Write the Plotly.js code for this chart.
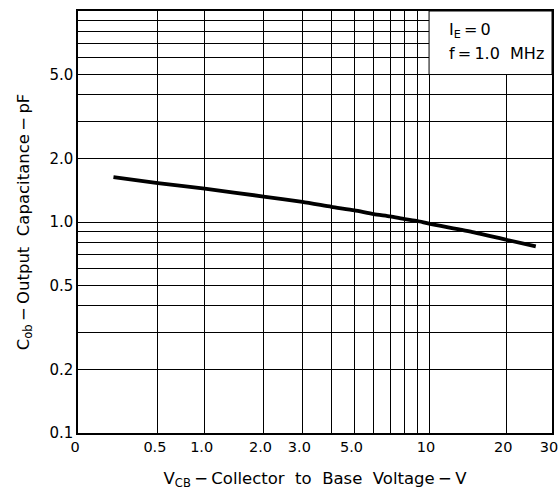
<!DOCTYPE html>
<html>
<head>
<meta charset="utf-8">
<script src="https://cdn.plot.ly/plotly-3.0.1.min.js"></script>
<style>html,body{margin:0;padding:0;background:#fff;}#chart{width:560px;height:495px;}</style>
</head>
<body>
<div id="chart"></div>
<script>
// Collector-base voltage (V) and output capacitance (pF)
const vcb = [0.18, 0.5, 1.0, 2.0, 3.0, 4.0, 5.0, 6.0, 7.0, 8.0, 9.0, 10, 15, 20, 26];
const cob = [1.63, 1.53, 1.44, 1.32, 1.245, 1.18, 1.135, 1.09, 1.063, 1.033, 1.011, 0.982, 0.894, 0.824, 0.766];

// Axis scale: log(V + 0.5) as on the original chart paper
const vOffset = 0.5;
const xGridV = [0, 0.5, 1, 2, 3, 4, 5, 6, 7, 8, 9, 10, 20, 30];
const xGridLabels = ["0", "0.5", "1.0", "2.0", "3.0", "", "5.0", "", "", "", "", "10", "20", "30"];
const yGrid = [0.1, 0.2, 0.3, 0.4, 0.5, 0.6, 0.7, 0.8, 0.9, 1, 2, 3, 4, 5, 6, 7, 8, 9, 10];
const yGridLabels = ["0.1", "0.2", "", "", "0.5", "", "", "", "", "1.0", "2.0", "", "", "5.0", "", "", "", "", ""];

const xs = vcb.map(v => v + vOffset);
const xTickVals = xGridV.map(v => v + vOffset);

const fam = "DejaVu Sans, Liberation Sans, Arial, sans-serif";
const f = (size) => ({family: fam, size: size, color: "#000"});
const NB = "\u00a0", TH = "\u2009";

const trace = {
  x: xs, y: cob, type: "scatter", mode: "lines",
  line: {color: "#000", width: 3.8, shape: "spline", smoothing: 0.6},
  hoverinfo: "skip"
};

const layout = {
  width: 560, height: 495,
  margin: {l: 78, r: 8, t: 11, b: 62},
  paper_bgcolor: "#fff", plot_bgcolor: "#fff",
  showlegend: false,
  font: f(15),
  xaxis: {
    type: "log",
    range: [Math.log10(0 + vOffset), Math.log10(30 + vOffset)],
    tickmode: "array", tickvals: xTickVals, ticktext: xGridLabels,
    showgrid: true, gridcolor: "#000", gridwidth: 1,
    showline: true, linecolor: "#000", linewidth: 1.6, mirror: true,
    ticks: "", ticklen: 0, zeroline: false,
    ticklabeloverflow: "allow", ticklabelshift: -3,
    tickfont: f(14.5),
    title: {text: "V<sub>CB</sub>" + TH + "−" + TH + "Collector" + NB + NB + "to" + NB + NB + "Base" + NB + NB + "Voltage" + TH + "−" + TH + "V", font: f(16.5), standoff: 18},
    fixedrange: true
  },
  yaxis: {
    type: "log",
    range: [-1, 1],
    tickmode: "array", tickvals: yGrid, ticktext: yGridLabels,
    showgrid: true, gridcolor: "#000", gridwidth: 1,
    showline: true, linecolor: "#000", linewidth: 1.6, mirror: true,
    ticks: "", ticklen: 0, zeroline: false,
    tickfont: f(15),
    title: {text: "C<sub>ob</sub>" + TH + "−" + TH + "Output" + NB + NB + "Capacitance" + TH + "−" + TH + "pF", font: f(16.5), standoff: 16},
    fixedrange: true
  },
  shapes: [{
    type: "rect", xref: "x", yref: "y", layer: "between",
    x0: 10 + vOffset, x1: 30 + vOffset, y0: 5, y1: 10,
    fillcolor: "#fff", line: {color: "#000", width: 1}
  }],
  annotations: [
    {xref: "paper", yref: "paper", x: 0.778, y: 0.953, xanchor: "left", yanchor: "middle",
     text: "I<sub>E</sub>" + TH + "=" + TH + "0", showarrow: false, font: f(16)},
    {xref: "paper", yref: "paper", x: 0.778, y: 0.9, xanchor: "left", yanchor: "middle",
     text: "f" + TH + "=" + TH + "1.0" + NB + NB + "MHz", showarrow: false, font: f(16)}
  ]
};

Plotly.newPlot("chart", [trace], layout, {displayModeBar: false, staticPlot: true});
</script>
</body>
</html>
